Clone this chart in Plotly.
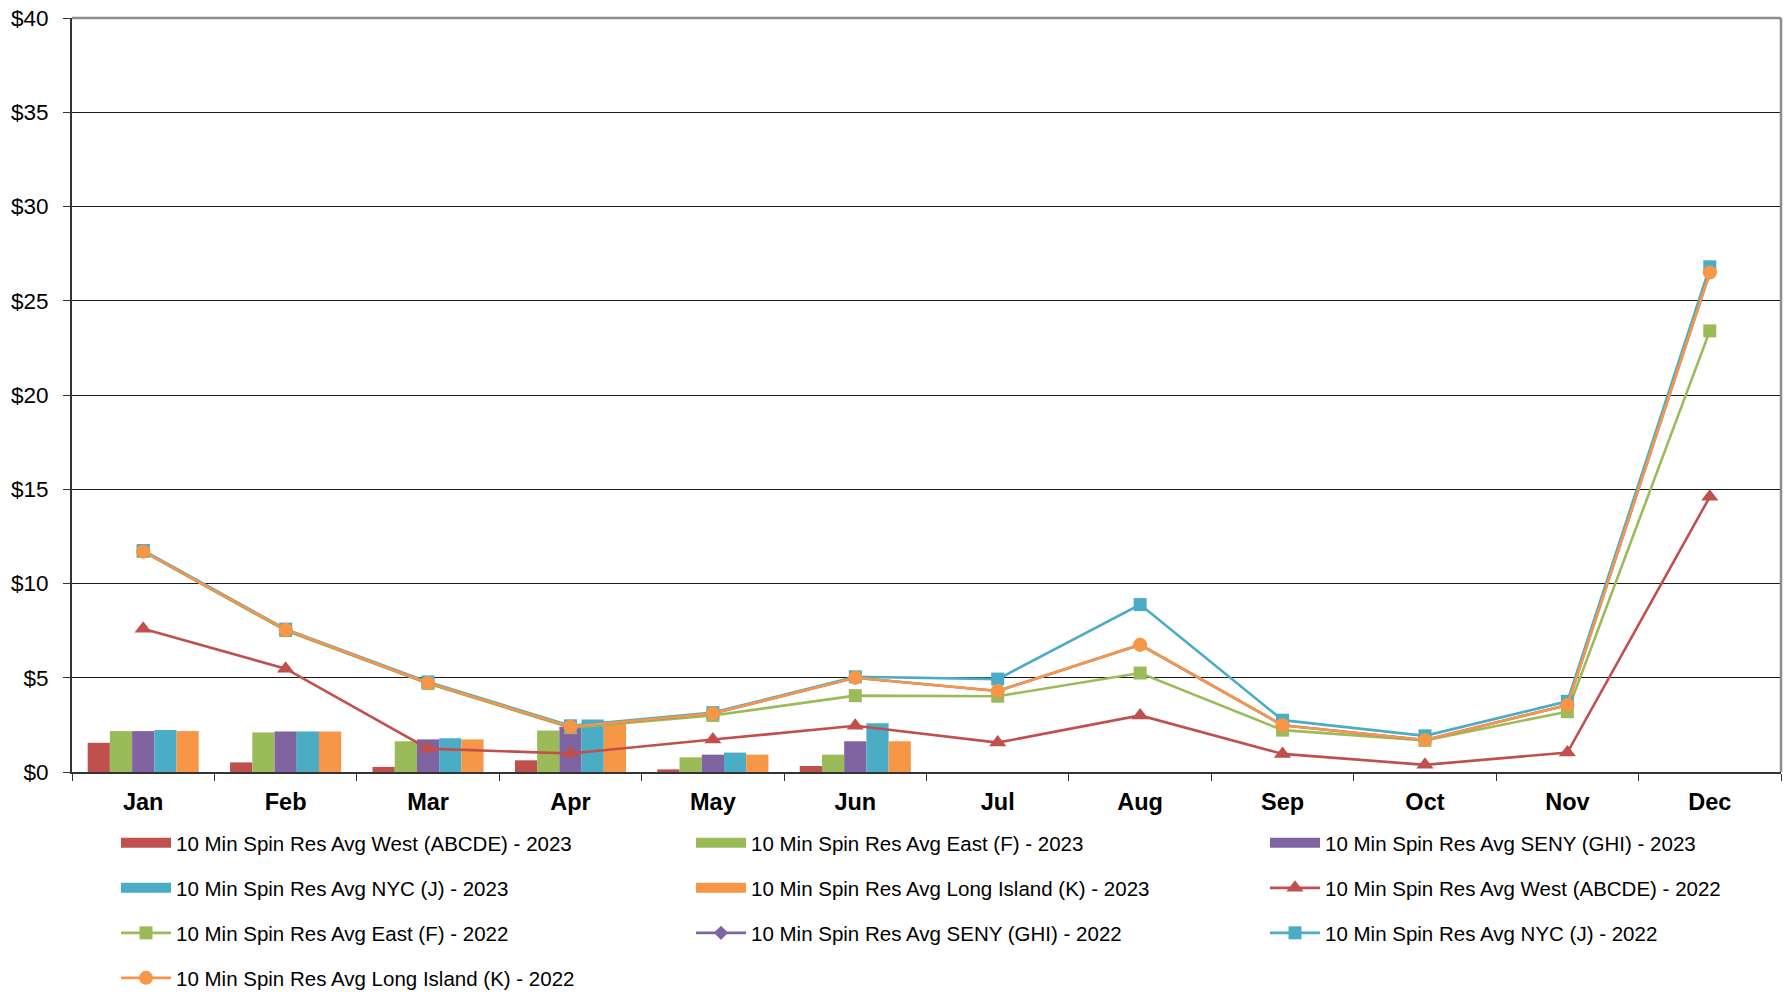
import plotly.graph_objects as go

months = ["Jan", "Feb", "Mar", "Apr", "May", "Jun", "Jul", "Aug", "Sep", "Oct", "Nov", "Dec"]
y_ticks = [0, 5, 10, 15, 20, 25, 30, 35, 40]
y_tick_labels = ["$" + str(v) for v in y_ticks]

# 2023 bars (Jan-Jun)
west_2023 = [1.55, 0.51, 0.27, 0.62, 0.14, 0.32, None, None, None, None, None, None]
east_2023 = [2.17, 2.10, 1.63, 2.20, 0.78, 0.92, None, None, None, None, None, None]
seny_2023 = [2.17, 2.15, 1.73, 2.40, 0.92, 1.63, None, None, None, None, None, None]
nyc_2023 = [2.23, 2.15, 1.79, 2.78, 1.03, 2.58, None, None, None, None, None, None]
li_2023 = [2.17, 2.15, 1.73, 2.57, 0.92, 1.63, None, None, None, None, None, None]

# 2022 lines
west_2022 = [7.6, 5.48, 1.24, 0.98, 1.72, 2.45, 1.56, 3.0, 0.96, 0.38, 1.03, 14.6]
east_2022 = [11.7, 7.5, 4.7, 2.35, 3.0, 4.05, 4.02, 5.25, 2.22, 1.68, 3.2, 23.4]
seny_2022 = [11.7, 7.55, 4.72, 2.4, 3.1, 5.0, 4.3, 6.75, 2.48, 1.7, 3.55, 26.5]
nyc_2022 = [11.75, 7.58, 4.78, 2.45, 3.15, 5.05, 4.93, 8.88, 2.75, 1.92, 3.75, 26.8]
li_2022 = [11.7, 7.55, 4.72, 2.4, 3.1, 5.0, 4.3, 6.75, 2.48, 1.7, 3.55, 26.5]

c_west = "#C0504D"
c_east = "#9BBB59"
c_seny = "#8064A2"
c_nyc = "#4BACC6"
c_li = "#F79646"

FONT = "Liberation Sans"
W, H = 1789, 992
plot_left, plot_right = 72, 1781
plot_top, plot_bottom = 18, 772
ph = plot_bottom - plot_top
pw = plot_right - plot_left

def ypaper(px):
    return (plot_bottom - px) / ph

def xpaper(px):
    return (px - plot_left) / pw

# legend slot positions in page pixels (row centers, column left edges)
col_x = [116, 691, 1265]
row_y = [843, 888, 933, 978]

fig = go.Figure()

bars = [
    ("10 Min Spin Res Avg West (ABCDE) - 2023", west_2023, c_west),
    ("10 Min Spin Res Avg East (F) - 2023", east_2023, c_east),
    ("10 Min Spin Res Avg SENY (GHI) - 2023", seny_2023, c_seny),
    ("10 Min Spin Res Avg NYC (J) - 2023", nyc_2023, c_nyc),
    ("10 Min Spin Res Avg Long Island (K) - 2023", li_2023, c_li),
]
lines = [
    ("10 Min Spin Res Avg West (ABCDE) - 2022", west_2022, c_west, "triangle-up", 15),
    ("10 Min Spin Res Avg East (F) - 2022", east_2022, c_east, "square", 13),
    ("10 Min Spin Res Avg SENY (GHI) - 2022", seny_2022, c_seny, "diamond", 11),
    ("10 Min Spin Res Avg NYC (J) - 2022", nyc_2022, c_nyc, "square", 13),
    ("10 Min Spin Res Avg Long Island (K) - 2022", li_2022, c_li, "circle", 14),
]

legend_defs = {}
idx = 0
def next_legend():
    global idx
    r, c = divmod(idx, 3)
    name = "legend" if idx == 0 else "legend%d" % (idx + 1)
    legend_defs[name] = dict(
        x=xpaper(col_x[c]), y=ypaper(row_y[r]), xanchor="left", yanchor="middle",
        orientation="h", itemwidth=50,
        font=dict(family=FONT, size=20.5, color="#000000"),
        bgcolor="rgba(0,0,0,0)", borderwidth=0)
    idx += 1
    return name

for name, vals, col in bars:
    lg = next_legend()
    fig.add_trace(go.Bar(x=months, y=vals, name=name, marker=dict(color=col, line=dict(width=0)),
                         showlegend=False, legendgroup=name))
    # legend-only entry giving the wide rectangular swatch
    fig.add_trace(go.Scatter(x=[None], y=[None], name=name, mode="lines",
                             line=dict(color=col, width=11), legend=lg, legendgroup=name))

for name, vals, col, sym, sz in lines:
    lg = next_legend()
    fig.add_trace(go.Scatter(x=months, y=vals, name=name, mode="lines+markers",
                             line=dict(color=col, width=2.6),
                             marker=dict(symbol=sym, size=sz, color=col),
                             legend=lg))

fig.update_layout(
    width=W, height=H,
    margin=dict(l=plot_left, r=W - plot_right, t=plot_top, b=H - plot_bottom, autoexpand=False),
    paper_bgcolor="white", plot_bgcolor="white",
    barmode="group", bargap=0.22, bargroupgap=0,
    font=dict(family=FONT, color="#000000"),
    showlegend=True,
    **legend_defs,
)

fig.update_yaxes(range=[0, 40], tickmode="array", tickvals=y_ticks, ticktext=y_tick_labels,
                 showgrid=True, gridcolor="#1a1a1a", gridwidth=1,
                 showline=True, linecolor="#333333", linewidth=2,
                 ticks="outside", ticklen=7, tickcolor="#333333", ticklabelstandoff=10,
                 ticklabeloverflow="allow",
                 tickfont=dict(family=FONT, size=22.5, color="#000000"),
                 zeroline=False, fixedrange=True, automargin=False)
fig.update_xaxes(type="category", categoryorder="array", categoryarray=months,
                 range=[-0.5, len(months) - 0.5],
                 showline=True, linecolor="#333333", linewidth=2,
                 ticks="outside", ticklen=7, tickcolor="#333333", tickson="boundaries",
                 ticklabelstandoff=8,
                 tickfont=dict(family=FONT, size=23.5, color="#000000", weight="bold"),
                 showgrid=False, fixedrange=True, automargin=False)

# gray top and right border of plot area
fig.add_shape(type="line", xref="paper", yref="paper", x0=0, x1=1, y0=1, y1=1,
              line=dict(color="#8c8c8c", width=2.5))
fig.add_shape(type="line", xref="paper", yref="paper", x0=1, x1=1, y0=0, y1=1,
              line=dict(color="#8c8c8c", width=2.5))

# remove the browser's default body margin so the figure fills the window exactly
fig.write_html("out.html", config={"displayModeBar": False},
               post_script="document.body.style.margin='0';document.body.style.overflow='hidden';")
